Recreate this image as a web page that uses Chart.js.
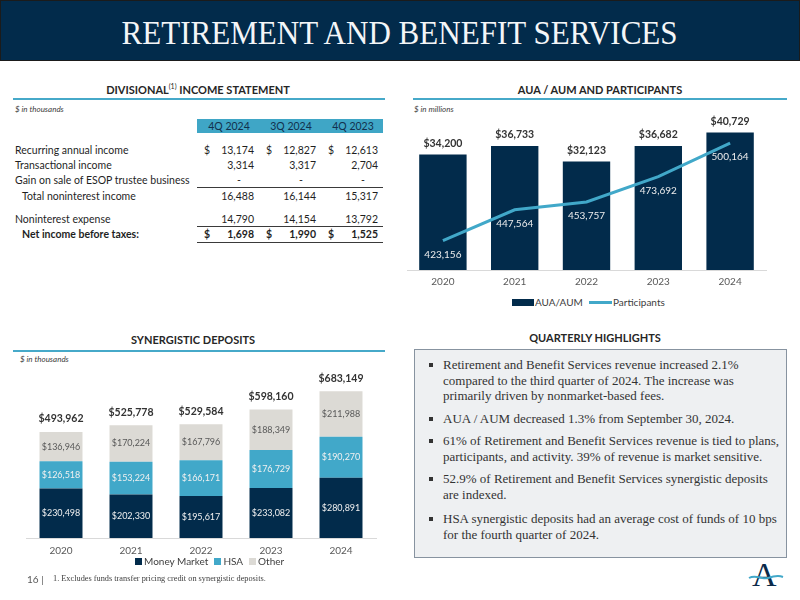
<!DOCTYPE html>
<html>
<head>
<meta charset="utf-8">
<script src="https://cdn.jsdelivr.net/npm/chart.js@4.4.1/dist/chart.umd.min.js"></script>
<style>
  body { margin: 0; width: 800px; height: 600px; position: relative; background: #fff; font-family: Lato, sans-serif; overflow: hidden; }
  .abs { position: absolute; white-space: nowrap; }
  #titleBar { left: 0; top: 0; width: 798px; height: 59px; background: #022b4b; border: 1px solid #1b1b1b; }
  #title { left: 0; top: 15px; width: 800px; text-align: center; color: #f4f6f8; font-family: "Liberation Serif", serif; font-size: 33px; }
  #title span { display: inline-block; transform-origin: center; }
  .secHead { font-size: 11px; font-weight: bold; color: #262626; transform: translate(-50%, -50%); }
  .secHead sup { font-size: 7px; font-weight: normal; }
  .rule { height: 2px; background: #46a9c9; }
  .unit { font-size: 8px; font-style: italic; color: #404040; transform: translateY(-50%); }
  .cell { font-size: 10.5px; color: #1f1f1f; transform: translateY(-50%); }
  .hline { height: 1px; background: #3a3a3a; }
  #band { left: 197px; top: 119px; width: 186px; height: 14px; background: #3fa6c6; }
  #box { left: 414px; top: 349px; width: 371px; height: 207px; background: #eef0f2; border: 1.5px solid #8793a0; }
  .hl { font-family: "Liberation Serif", serif; font-size: 13px; line-height: 15.5px; color: #333; }
  .bullet { width: 4px; height: 4px; background: #333; }
  .leg { font-size: 10px; color: #404040; transform: translateY(-50%); }
  #depLegend { left: 135px; top: 555px; display: flex; align-items: center; font-size: 10px; color: #404040; }
  #depLegend .sw { width: 7px; height: 7px; margin-right: 2px; }
  #depLegend .nm { margin-right: 6px; }
</style>
</head>
<body>
<div class="abs" id="titleBar"></div>
<div class="abs" id="title"><span id="titleText">RETIREMENT AND BENEFIT SERVICES</span></div>

<div class="abs secHead" style="left:198px; top:89px;">DIVISIONAL<sup>(1)</sup> INCOME STATEMENT</div>
<div class="abs rule" style="left:13px; top:98px; width:372px;"></div>
<div class="abs unit" style="left:15px; top:109px;">$ in thousands</div>
<div class="abs" id="band"></div>
<div id="table"></div>

<div class="abs secHead" style="left:600px; top:89px;">AUA / AUM AND PARTICIPANTS</div>
<div class="abs rule" style="left:413px; top:98px; width:374px;"></div>
<div class="abs unit" style="left:414px; top:109px;">$ in millions</div>
<canvas id="auaChart" class="abs" style="left:400px; top:112px;" width="400" height="182"></canvas>
<div class="abs" style="left:512px; top:299px; width:22px; height:7px; background:#022b4b;"></div>
<div class="abs leg" style="left:535px; top:302px;">AUA/AUM</div>
<div class="abs" style="left:589px; top:301px; width:23px; height:3px; background:#41a8c9;"></div>
<div class="abs leg" style="left:613px; top:302px;">Participants</div>

<div class="abs secHead" style="left:193px; top:339px;">SYNERGISTIC DEPOSITS</div>
<div class="abs rule" style="left:13px; top:350px; width:372px;"></div>
<div class="abs unit" style="left:20px; top:359px;">$ in thousands</div>
<canvas id="depChart" class="abs" style="left:0px; top:366px;" width="400" height="198"></canvas>
<div class="abs" id="depLegend"></div>

<div class="abs secHead" style="left:595px; top:337px;">QUARTERLY HIGHLIGHTS</div>
<div class="abs" id="box"></div>
<div id="highlights"></div>

<div class="abs" style="left:27px; top:573px; font-size:10px; color:#595959;">16 |</div>
<div class="abs" style="left:53px; top:574px; font-family:'Liberation Serif', serif; font-size:8.3px; color:#404040;">1. Excludes funds transfer pricing credit on synergistic deposits.</div>

<div class="abs" style="left:752px; top:558px; font-family:'Liberation Serif', serif; font-size:34px; color:#0b2a4a; line-height:34px;">A</div>
<svg class="abs" style="left:748px; top:570px;" width="36" height="14">
  <path d="M1 8 C 8 4, 14 10, 20 8 S 30 5, 35 7" stroke="#41a8c9" stroke-width="2" fill="none"/>
</svg>

<script>
// données du graphique AUA / AUM
const years = ['2020', '2021', '2022', '2023', '2024'];
const auaAum = [34200, 36733, 32123, 36682, 40729];
const participants = [423156, 447564, 453757, 473692, 500164];

// dépôts synergiques
const moneyMarket = [230498, 202330, 195617, 233082, 280891];
const hsa = [126518, 153224, 166171, 176729, 190270];
const other = [136946, 170224, 167796, 188349, 211988];
const depositTotals = [493962, 525778, 529584, 598160, 683149];

// compte de résultat
const incomeColumns = ['4Q 2024', '3Q 2024', '4Q 2023'];
const incomeRows = ['Recurring annual income', 'Transactional income', 'Gain on sale of ESOP trustee business',
                    'Total noninterest income', 'Noninterest expense', 'Net income before taxes:'];
const q4_2024 = [13174, 3314, null, 16488, 14790, 1698];
const q3_2024 = [12827, 3317, null, 16144, 14154, 1990];
const q4_2023 = [12613, 2704, null, 15317, 13792, 1525];

const highlights = [
    ['Retirement and Benefit Services revenue increased 2.1%', 'compared to the third quarter of 2024. The increase was', 'primarily driven by nonmarket-based fees.'],
    ['AUA / AUM decreased 1.3% from September 30, 2024.'],
    ['61% of Retirement and Benefit Services revenue is tied to plans,', 'participants, and activity. 39% of revenue is market sensitive.'],
    ['52.9% of Retirement and Benefit Services synergistic deposits', 'are indexed.'],
    ['HSA synergistic deposits had an average cost of funds of 10 bps', 'for the fourth quarter of 2024.']
];

const navy = '#022b4b';
const teal = '#41a8c9';
const grey = '#dcdad5';

// ajuster la largeur du titre
const titleText = document.getElementById('titleText');
titleText.style.transform = 'scaleX(' + (556 / titleText.offsetWidth) + ')';

function fmt(v) { return v.toLocaleString('en-US'); }

function addDiv(parent, cls, style, html) {
    const d = document.createElement('div');
    d.className = cls;
    d.style.cssText = style;
    d.innerHTML = html;
    parent.appendChild(d);
    return d;
}

// tableau du compte de résultat
const table = document.getElementById('table');
const colCenters = [229, 291, 353];
const dollarX = [204, 266, 328];
const numRight = [254, 316, 378];
const rowY = [150, 165, 180, 196, 219, 234];
const rowIndent = [15, 15, 15, 22, 15, 22];
const colData = [q4_2024, q3_2024, q4_2023];

incomeColumns.forEach((c, i) => {
    addDiv(table, 'abs cell', `left:${colCenters[i] - 40}px; width:80px; text-align:center; top:126px; color:#12304d;`, c);
});
incomeRows.forEach((r, i) => {
    const bold = i === 5 ? 'font-weight:bold;' : '';
    addDiv(table, 'abs cell', `left:${rowIndent[i]}px; top:${rowY[i]}px; ${bold}`, r);
    colData.forEach((col, k) => {
        const v = col[i];
        if (v === null) {
            addDiv(table, 'abs cell', `left:${numRight[k] - 20}px; width:10px; text-align:center; top:${rowY[i]}px;`, '-');
        } else {
            addDiv(table, 'abs cell', `left:${numRight[k] - 50}px; width:50px; text-align:right; top:${rowY[i]}px; ${bold}`, fmt(v));
        }
        if (i === 0 || i === 5) {
            addDiv(table, 'abs cell', `left:${dollarX[k]}px; top:${rowY[i]}px; ${bold}`, '$');
        }
    });
});
[187, 226, 242].forEach(y => addDiv(table, 'abs hline', `left:197px; top:${y}px; width:186px;`, ''));

// points forts du trimestre
const hlBox = document.getElementById('highlights');
const hlTop = [357, 411, 433, 471, 511];
highlights.forEach((lines, i) => {
    addDiv(hlBox, 'abs bullet', `left:429px; top:${hlTop[i] + 6}px;`, '');
    addDiv(hlBox, 'abs hl', `left:443px; top:${hlTop[i]}px;`, lines.join('<br>'));
});

// légende des dépôts
const depLegend = document.getElementById('depLegend');
[['Money Market', navy], ['HSA', teal], ['Other', grey]].forEach(([name, color]) => {
    addDiv(depLegend, 'sw', `background:${color};`, '');
    addDiv(depLegend, 'nm', '', name);
});

// plugin pour les étiquettes de valeurs
const valueLabels = {
    id: 'valueLabels',
    afterDatasetsDraw(chart, args, opts) {
        const ctx = chart.ctx;
        chart.data.datasets.forEach((ds, i) => {
            const lab = ds.valueLabel;
            if (!lab) return;
            chart.getDatasetMeta(i).data.forEach((el, j) => {
                let y;
                if (lab.pos === 'top') y = el.y - lab.offset;
                else if (lab.pos === 'below') y = el.y + lab.offset;
                else y = (el.y + el.base) / 2;
                ctx.save();
                ctx.font = lab.font;
                ctx.fillStyle = lab.color;
                ctx.textAlign = 'center';
                ctx.textBaseline = 'middle';
                ctx.fillText((lab.prefix || '') + fmt(ds.data[j]), el.x, y);
                ctx.restore();
            });
        });
        if (opts && opts.totals) {
            const last = chart.getDatasetMeta(chart.data.datasets.length - 1);
            last.data.forEach((el, j) => {
                ctx.save();
                ctx.font = 'bold 10.5px Lato';
                ctx.fillStyle = '#333';
                ctx.textAlign = 'center';
                ctx.textBaseline = 'middle';
                ctx.fillText('$' + fmt(opts.totals[j]), el.x, el.y - 13);
                ctx.restore();
            });
        }
    }
};

const xAxis = {
    grid: { display: false, drawTicks: false },
    border: { display: true, color: '#d9d9d9', width: 1 },
    ticks: { padding: 6, color: '#595959', font: { family: 'Lato', size: 10 } }
};

new Chart(document.getElementById('auaChart'), {
    data: {
        labels: years,
        datasets: [
            {
                type: 'line', label: 'Participants', data: participants, yAxisID: 'y2', order: 0,
                borderColor: teal, borderWidth: 3, pointRadius: 0, tension: 0,
                valueLabel: { pos: 'below', offset: 14, font: '10px Lato', color: '#ececec' }
            },
            {
                type: 'bar', label: 'AUA/AUM', data: auaAum, yAxisID: 'y', order: 1,
                backgroundColor: navy, categoryPercentage: 1, barPercentage: 0.66,
                valueLabel: { pos: 'top', offset: 11, font: 'bold 10.5px Lato', color: '#333', prefix: '$' }
            }
        ]
    },
    options: {
        responsive: false, animation: false, devicePixelRatio: 1,
        layout: { padding: { left: 7, right: 34, top: 6, bottom: 0 } },
        plugins: { legend: { display: false }, tooltip: { enabled: false } },
        scales: {
            x: xAxis,
            y: { display: false, min: 0, max: 45000 },
            y2: { display: false, min: 400000, max: 520000 }
        }
    },
    plugins: [valueLabels]
});

new Chart(document.getElementById('depChart'), {
    type: 'bar',
    data: {
        labels: years,
        datasets: [
            { label: 'Money Market', data: moneyMarket, backgroundColor: navy,
              valueLabel: { pos: 'center', font: '9px Lato', color: '#f0f0f0', prefix: '$' } },
            { label: 'HSA', data: hsa, backgroundColor: teal,
              valueLabel: { pos: 'center', font: '9px Lato', color: '#f0f0f0', prefix: '$' } },
            { label: 'Other', data: other, backgroundColor: grey,
              valueLabel: { pos: 'center', font: '9px Lato', color: '#595959', prefix: '$' } }
        ]
    },
    options: {
        responsive: false, animation: false, devicePixelRatio: 1,
        categoryPercentage: 1, barPercentage: 0.614,
        layout: { padding: { left: 26, right: 24, top: 11, bottom: 0 } },
        plugins: { legend: { display: false }, tooltip: { enabled: false }, valueLabels: { totals: depositTotals } },
        scales: {
            x: Object.assign({}, xAxis, { stacked: true, ticks: { padding: 7, color: '#595959', font: { family: 'Lato', size: 10 } } }),
            y: { display: false, stacked: true, min: 0, max: 750000 }
        }
    },
    plugins: [valueLabels]
});
</script>
</body>
</html>
